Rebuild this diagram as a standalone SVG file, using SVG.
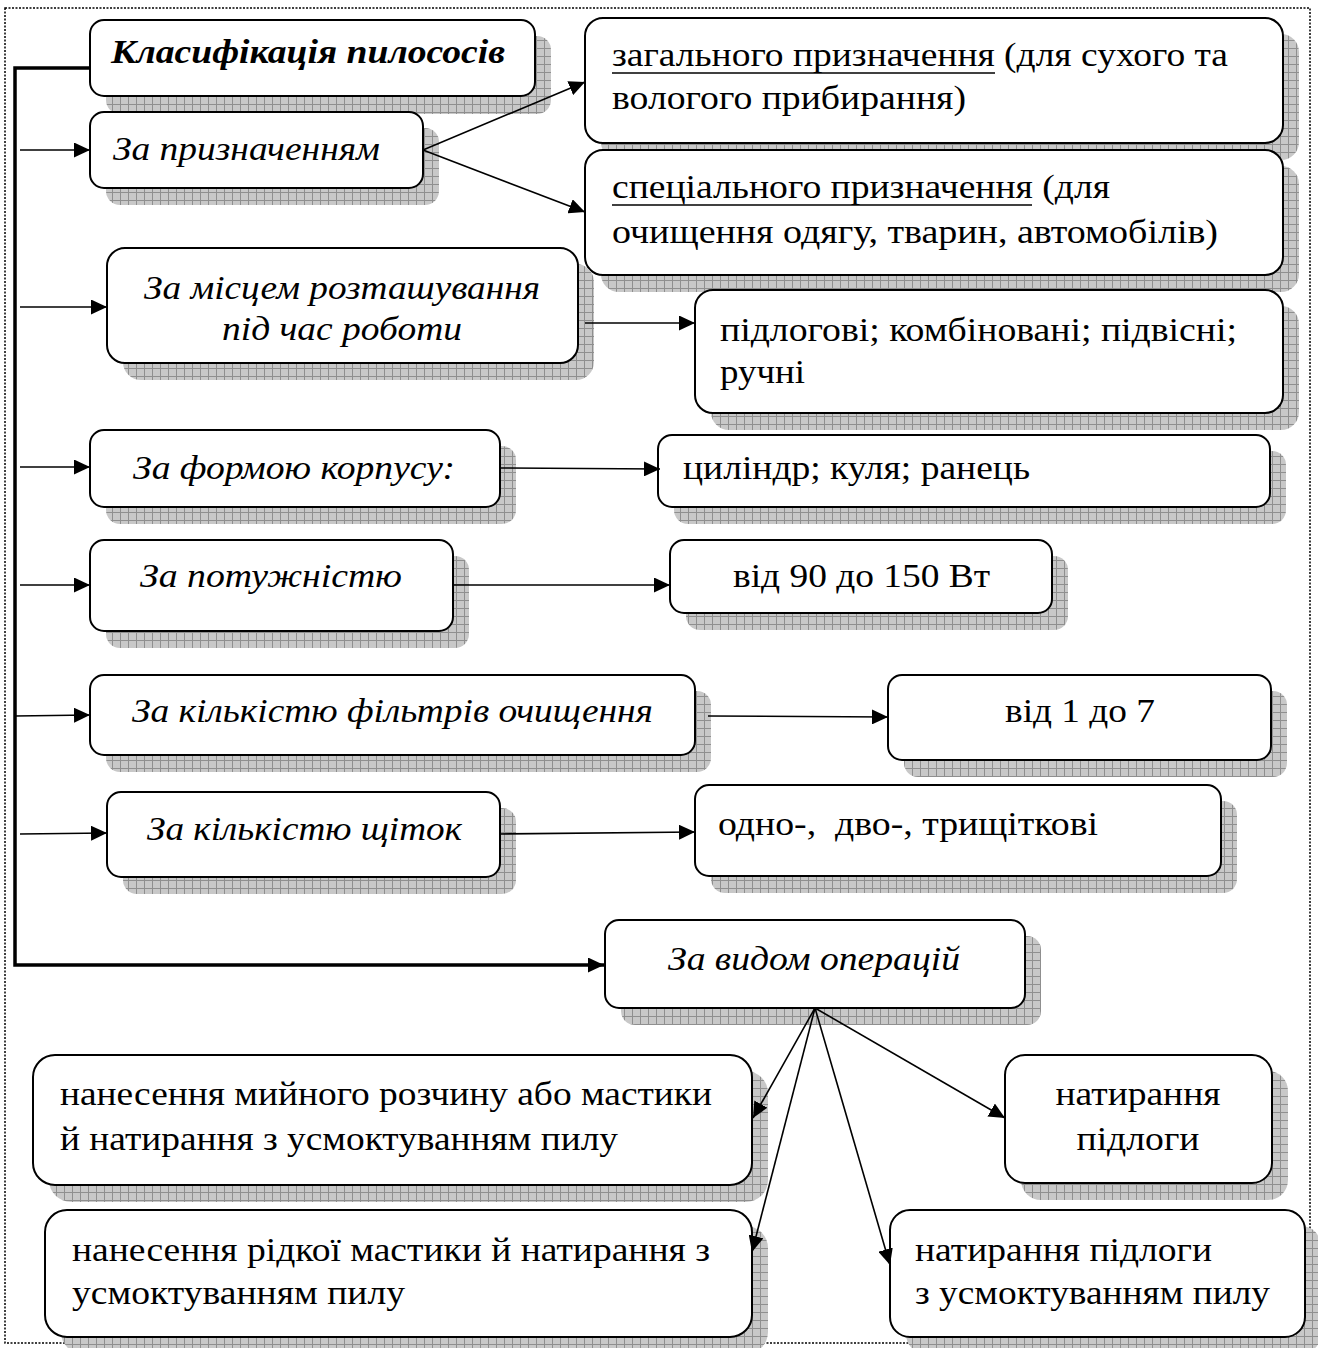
<svg xmlns="http://www.w3.org/2000/svg" width="1318" height="1348" viewBox="0 0 1318 1348">
<style>
  .box{fill:#fff;stroke:#000;stroke-width:2}
  .sh{fill:url(#hatch);stroke:none}
  .t{font-family:'Liberation Serif','Times New Roman',Tinos,'Nimbus Roman','DejaVu Serif',serif;font-size:33px;fill:#000}
  .i{font-style:italic}
  .c{text-anchor:middle}
  .ln{stroke:#000;stroke-width:1.6;fill:none}
  .thick{stroke:#000;stroke-width:3.5;fill:none}
</style>
<defs>
  <pattern id="hatch" width="8" height="8" patternUnits="userSpaceOnUse">
    <rect width="8" height="8" fill="#c8c8c8"/>
    <path d="M0,0.5H8M0.5,0V8" stroke="#8f8f8f" stroke-width="1"/>
  </pattern>
  <marker id="ar" markerUnits="userSpaceOnUse" markerWidth="17" markerHeight="15" refX="16" refY="7.5" orient="auto">
    <path d="M0,0 L16,7.5 L0,15 z" fill="#000"/>
  </marker>
</defs>
<rect x="5" y="8" width="1305" height="1335" fill="none" stroke="#000" stroke-width="1.5" stroke-dasharray="2,1.5"/>

<g id="n-title">
  <rect class="sh" x="106" y="36" width="445" height="78" rx="14"/>
  <rect class="box" x="90" y="20" width="445" height="76" rx="14"/>
  <text class="t i" x="111" y="63" font-weight="bold" textLength="394" lengthAdjust="spacingAndGlyphs">Класифікація пилососів</text>
</g>

<g id="n-pryzn">
  <rect class="sh" x="106" y="128" width="333" height="77" rx="14"/>
  <rect class="box" x="90" y="112" width="333" height="76" rx="14"/>
  <text class="t i" x="113" y="160" textLength="267" lengthAdjust="spacingAndGlyphs">За призначенням</text>
</g>

<g id="n-zag">
  <rect class="sh" x="601" y="34" width="698" height="126" rx="18"/>
  <rect class="box" x="585" y="18" width="698" height="125" rx="18"/>
  <text class="t" x="612" y="66" textLength="616" lengthAdjust="spacingAndGlyphs">загального призначення (для сухого та</text>
  <line x1="612" y1="73" x2="995" y2="73" stroke="#000" stroke-width="1.5"/>
  <text class="t" x="612" y="109" textLength="354" lengthAdjust="spacingAndGlyphs">вологого прибирання)</text>
</g>

<g id="n-spec">
  <rect class="sh" x="601" y="166" width="698" height="126" rx="18"/>
  <rect class="box" x="585" y="150" width="698" height="125" rx="18"/>
  <text class="t" x="612" y="198" textLength="498" lengthAdjust="spacingAndGlyphs">спеціального призначення (для</text>
  <line x1="612" y1="205" x2="1032" y2="205" stroke="#000" stroke-width="1.5"/>
  <text class="t" x="612" y="243" textLength="606" lengthAdjust="spacingAndGlyphs">очищення одягу, тварин, автомобілів)</text>
</g>

<g id="n-misce">
  <rect class="sh" x="123" y="264" width="471" height="116" rx="18"/>
  <rect class="box" x="107" y="248" width="471" height="115" rx="18"/>
  <text class="t i c" x="342" y="299" textLength="396" lengthAdjust="spacingAndGlyphs">За місцем розташування</text>
  <text class="t i c" x="342" y="340" textLength="240" lengthAdjust="spacingAndGlyphs">під час роботи</text>
</g>

<g id="n-pidl">
  <rect class="sh" x="711" y="306" width="588" height="124" rx="18"/>
  <rect class="box" x="695" y="290" width="588" height="123" rx="18"/>
  <text class="t" x="720" y="341" textLength="517" lengthAdjust="spacingAndGlyphs">підлогові; комбіновані; підвісні;</text>
  <text class="t" x="720" y="383" textLength="85" lengthAdjust="spacingAndGlyphs">ручні</text>
</g>

<g id="n-forma">
  <rect class="sh" x="106" y="446" width="410" height="78" rx="14"/>
  <rect class="box" x="90" y="430" width="410" height="77" rx="14"/>
  <text class="t i" x="133" y="479" textLength="322" lengthAdjust="spacingAndGlyphs">За формою корпусу:</text>
</g>

<g id="n-cyl">
  <rect class="sh" x="674" y="451" width="612" height="73" rx="14"/>
  <rect class="box" x="658" y="435" width="612" height="72" rx="14"/>
  <text class="t" x="683" y="479" textLength="347" lengthAdjust="spacingAndGlyphs">циліндр; куля; ранець</text>
</g>

<g id="n-potuzh">
  <rect class="sh" x="106" y="556" width="363" height="92" rx="14"/>
  <rect class="box" x="90" y="540" width="363" height="91" rx="14"/>
  <text class="t i" x="140" y="587" textLength="262" lengthAdjust="spacingAndGlyphs">За потужністю</text>
</g>

<g id="n-90">
  <rect class="sh" x="686" y="556" width="382" height="74" rx="14"/>
  <rect class="box" x="670" y="540" width="382" height="73" rx="14"/>
  <text class="t" x="733" y="587" textLength="257" lengthAdjust="spacingAndGlyphs">від 90 до 150 Вт</text>
</g>

<g id="n-filtr">
  <rect class="sh" x="106" y="691" width="605" height="81" rx="14"/>
  <rect class="box" x="90" y="675" width="605" height="80" rx="14"/>
  <text class="t i" x="132" y="722" textLength="521" lengthAdjust="spacingAndGlyphs">За кількістю фільтрів очищення</text>
</g>

<g id="n-17">
  <rect class="sh" x="904" y="691" width="383" height="86" rx="14"/>
  <rect class="box" x="888" y="675" width="383" height="85" rx="14"/>
  <text class="t" x="1005" y="722" textLength="150" lengthAdjust="spacingAndGlyphs">від 1 до 7</text>
</g>

<g id="n-shchitok">
  <rect class="sh" x="123" y="808" width="393" height="86" rx="14"/>
  <rect class="box" x="107" y="792" width="393" height="85" rx="14"/>
  <text class="t i" x="147" y="840" textLength="315" lengthAdjust="spacingAndGlyphs">За кількістю щіток</text>
</g>

<g id="n-odno">
  <rect class="sh" x="711" y="801" width="526" height="92" rx="14"/>
  <rect class="box" x="695" y="785" width="526" height="91" rx="14"/>
  <text class="t" x="718" y="835" textLength="380" lengthAdjust="spacingAndGlyphs" xml:space="preserve">одно-,  дво-, трищіткові</text>
</g>

<g id="n-vyd">
  <rect class="sh" x="621" y="936" width="420" height="89" rx="14"/>
  <rect class="box" x="605" y="920" width="420" height="88" rx="14"/>
  <text class="t i" x="668" y="970" textLength="292" lengthAdjust="spacingAndGlyphs">За видом операцій</text>
</g>

<g id="n-myin">
  <rect class="sh" x="49" y="1071" width="719" height="131" rx="22"/>
  <rect class="box" x="33" y="1055" width="719" height="130" rx="22"/>
  <text class="t" x="60" y="1105" textLength="652" lengthAdjust="spacingAndGlyphs">нанесення мийного розчину або мастики</text>
  <text class="t" x="60" y="1150" textLength="558" lengthAdjust="spacingAndGlyphs">й натирання з усмоктуванням пилу</text>
</g>

<g id="n-ridk">
  <rect class="sh" x="61" y="1226" width="707" height="128" rx="22"/>
  <rect class="box" x="45" y="1210" width="707" height="127" rx="22"/>
  <text class="t" x="72" y="1261" textLength="638" lengthAdjust="spacingAndGlyphs">нанесення рідкої мастики й натирання з</text>
  <text class="t" x="72" y="1304" textLength="333" lengthAdjust="spacingAndGlyphs">усмоктуванням пилу</text>
</g>

<g id="n-nat">
  <rect class="sh" x="1021" y="1071" width="267" height="129" rx="20"/>
  <rect class="box" x="1005" y="1055" width="267" height="128" rx="20"/>
  <text class="t c" x="1138" y="1105" textLength="165" lengthAdjust="spacingAndGlyphs">натирання</text>
  <text class="t c" x="1138" y="1150" textLength="123" lengthAdjust="spacingAndGlyphs">підлоги</text>
</g>

<g id="n-natpyl">
  <rect class="sh" x="906" y="1226" width="415" height="128" rx="20"/>
  <rect class="box" x="890" y="1210" width="415" height="127" rx="20"/>
  <text class="t" x="915" y="1261" textLength="297" lengthAdjust="spacingAndGlyphs">натирання підлоги</text>
  <text class="t" x="915" y="1304" textLength="355" lengthAdjust="spacingAndGlyphs">з усмоктуванням пилу</text>
</g>

<g id="connectors">
  <path class="thick" d="M90,68 H15 V965 H604" marker-end="url(#ar)"/>
  <line class="ln" x1="20" y1="150" x2="90" y2="150" marker-end="url(#ar)"/>
  <line class="ln" x1="423" y1="150" x2="585" y2="82" marker-end="url(#ar)"/>
  <line class="ln" x1="423" y1="150" x2="585" y2="212" marker-end="url(#ar)"/>
  <line class="ln" x1="20" y1="307" x2="107" y2="307" marker-end="url(#ar)"/>
  <line class="ln" x1="585" y1="323" x2="695" y2="323" marker-end="url(#ar)"/>
  <line class="ln" x1="20" y1="467" x2="90" y2="467" marker-end="url(#ar)"/>
  <line class="ln" x1="500" y1="468" x2="660" y2="469" marker-end="url(#ar)"/>
  <line class="ln" x1="20" y1="585" x2="90" y2="585" marker-end="url(#ar)"/>
  <line class="ln" x1="453" y1="585" x2="670" y2="585" marker-end="url(#ar)"/>
  <line class="ln" x1="15" y1="716" x2="90" y2="715" marker-end="url(#ar)"/>
  <line class="ln" x1="708" y1="716" x2="888" y2="717" marker-end="url(#ar)"/>
  <line class="ln" x1="20" y1="834" x2="107" y2="833" marker-end="url(#ar)"/>
  <line class="ln" x1="500" y1="834" x2="695" y2="832" marker-end="url(#ar)"/>
  <line class="ln" x1="815" y1="1008" x2="753" y2="1118" marker-end="url(#ar)"/>
  <line class="ln" x1="815" y1="1008" x2="752" y2="1252" marker-end="url(#ar)"/>
  <line class="ln" x1="815" y1="1008" x2="1005" y2="1118" marker-end="url(#ar)"/>
  <line class="ln" x1="815" y1="1008" x2="890" y2="1265" marker-end="url(#ar)"/>
</g>
</svg>
